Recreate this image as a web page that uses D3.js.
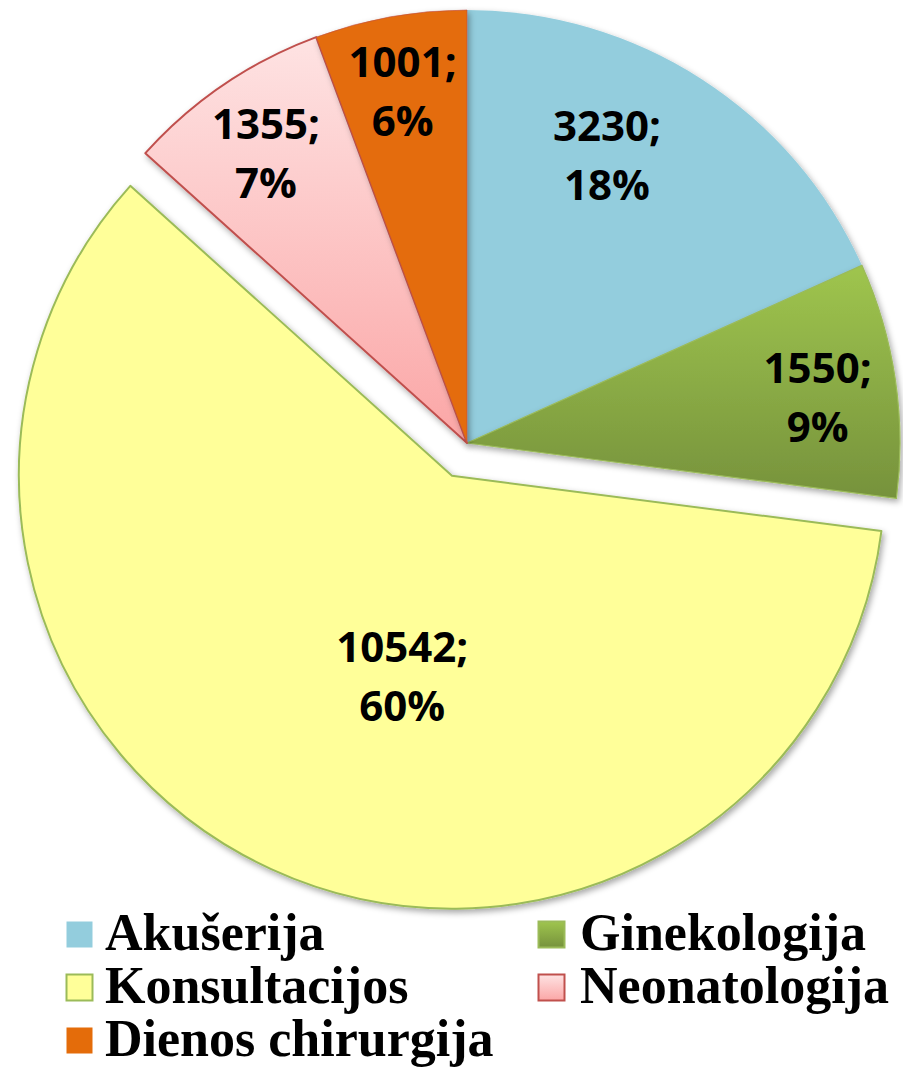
<!DOCTYPE html>
<html>
<head>
<meta charset="utf-8">
<script src="https://cdn.jsdelivr.net/npm/d3@7"></script>
<style>
  body { margin: 0; background: #fff; }
  .lbl { font-family: "Open Sans", sans-serif; font-weight: 700; font-size: 42px; fill: #000; }
  .leg { font-family: "Liberation Serif", "Times New Roman", serif; font-weight: 700; font-size: 52px; fill: #000; }
</style>
</head>
<body>
<div id="chart"></div>
<script>
const categories = ["Akušerija", "Ginekologija", "Konsultacijos", "Neonatologija", "Dienos chirurgija"];
const values = [3230, 1550, 10542, 1355, 1001];
const percents = ["18%", "9%", "60%", "7%", "6%"];

const width = 903;
const height = 1070;
const cx = 467, cy = 443;
const radius = 433;
const explodedSlice = "Konsultacijos";
const explodeDist = 36;

const fills = ["#93cddd", "url(#gGreen)", "#ffff99", "url(#gPink)", "#e46c0a"];
const strokes = ["#93cddd", "#9bbb59", "#9bbb59", "#c0504d", "#c0504d"];
const strokeW = [0, 1.2, 2, 2, 0.6];

const svg = d3.select("#chart").append("svg")
  .attr("width", width)
  .attr("height", height);

const defs = svg.append("defs");

const grad = (id, top, bottom) => {
  const g = defs.append("linearGradient")
    .attr("id", id)
    .attr("x1", 0).attr("y1", 0).attr("x2", 0).attr("y2", 1);
  g.append("stop").attr("offset", "0%").attr("stop-color", top);
  g.append("stop").attr("offset", "100%").attr("stop-color", bottom);
}
grad("gGreen", "#9fc54e", "#76923c");
grad("gPink", "#fee3e3", "#fba6a6");

defs.append("filter")
  .attr("id", "shadow")
  .attr("x", "-10%").attr("y", "-10%").attr("width", "130%").attr("height", "130%")
  .append("feDropShadow")
  .attr("dx", 2).attr("dy", 3)
  .attr("stdDeviation", 3)
  .attr("flood-color", "#000")
  .attr("flood-opacity", 0.35);

const data = categories.map((c, i) => ({ name: c, value: values[i], pct: percents[i], idx: i }));
const total = d3.sum(values);

const pie = d3.pie()
  .sort(null)
  .value(d => d.value)
  .startAngle(0)
  .endAngle(Math.PI * 2);

const arcs = pie(data);

const arc = d3.arc()
  .innerRadius(0)
  .outerRadius(radius);

const g = svg.append("g")
  .attr("transform", `translate(${cx}, ${cy})`);

const offset = (d) => {
  if (d.data.name !== explodedSlice) return [0, 0];
  const mid = (d.startAngle + d.endAngle) / 2;
  return [Math.sin(mid) * explodeDist, -Math.cos(mid) * explodeDist];
}

g.selectAll("path.slice")
  .data(arcs)
  .enter()
  .append("path")
  .attr("class", "slice")
  .attr("transform", d => `translate(${offset(d)})`)
  .attr("d", arc)
  .style("fill", d => fills[d.data.idx])
  .style("stroke", d => strokes[d.data.idx])
  .style("stroke-width", d => strokeW[d.data.idx])
  .style("stroke-linejoin", "round")
  .attr("filter", "url(#shadow)");

// labels: bigger slices get their label closer to the centre,
// and turned a bit back towards the slice start (like excel's best fit)
const labelPos = (d) => {
  const p = d.data.value / total;
  const r = radius * (0.88 - 0.7 * p);
  const shift = -Math.min(0.18, Math.max(0, (p - 0.09) * 1.4));
  const mid = (d.startAngle + d.endAngle) / 2 + shift;
  const o = offset(d);
  return [Math.sin(mid) * r + o[0], -Math.cos(mid) * r + o[1]];
}

const labels = g.selectAll("text.lbl")
  .data(arcs)
  .enter()
  .append("text")
  .attr("class", "lbl")
  .attr("text-anchor", "middle")
  .attr("transform", d => `translate(${labelPos(d)})`);

labels.append("tspan")
  .attr("x", 0)
  .attr("y", -8)
  .text(d => d.data.value + ";");

labels.append("tspan")
  .attr("x", 0)
  .attr("y", 51)
  .text(d => d.data.pct);

// legend, two columns
const colX = [66, 538];
const rowY = [921, 974, 1027];
const box = 27;

const legend = svg.append("g");
const item = legend.selectAll("g.item")
  .data(data)
  .enter()
  .append("g")
  .attr("class", "item")
  .attr("transform", (d, i) => `translate(${colX[i % 2]}, ${rowY[Math.floor(i / 2)]})`);

item.append("rect")
  .attr("x", 0.5).attr("y", 0.5)
  .attr("width", box - 1).attr("height", box - 1)
  .style("fill", d => fills[d.idx])
  .style("stroke", d => d.idx === 0 || d.idx === 4 ? "none" : strokes[d.idx])
  .style("stroke-width", 2);

item.append("text")
  .attr("class", "leg")
  .attr("x", (d, i) => i % 2 ? 42 : 39)
  .attr("y", 29)
  .text(d => d.name);
</script>
</body>
</html>
